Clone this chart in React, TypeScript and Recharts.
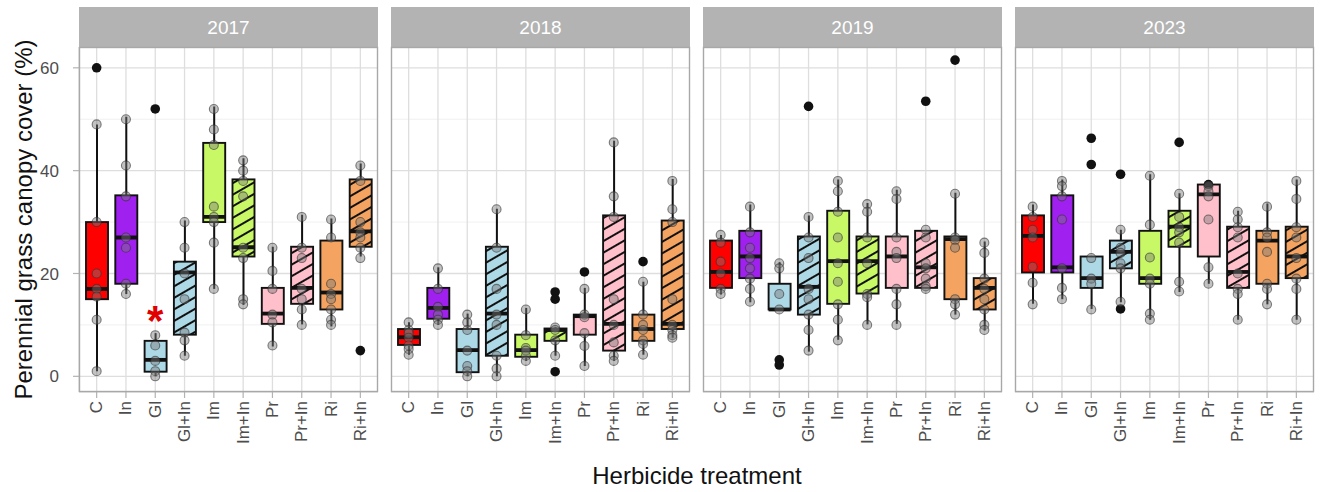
import React from 'react';
import { ComposedChart, Bar, Scatter, XAxis, YAxis, CartesianGrid, ReferenceDot } from 'recharts';

const categories = ['C', 'In', 'Gl', 'Gl+In', 'Im', 'Im+In', 'Pr', 'Pr+In', 'Ri', 'Ri+In'];
const years = ['2017', '2018', '2019', '2023'];
const fillColors = ['#FF0000', '#A020F0', '#ADD8E6', '#ADD8E6', '#C8F866', '#C8F866', '#FFC0CB', '#FFC0CB', '#F4A460', '#F4A460'];
const hatched = [false, false, false, true, false, true, false, true, false, true];
const yTicks = [0, 20, 40, 60];
const yMinor = [10, 30, 50];

// [lower whisker, Q1, median, Q3, upper whisker]
const box2017 = [
  [1, 15, 17, 30, 49], [16, 18, 27, 35.2, 50.5], [0, 0.9, 3.2, 6.9, 8.4], [4, 8.1, 20.2, 22.3, 30.3],
  [17, 30, 31, 45.4, 52.5], [13.9, 23.3, 25.1, 38.3, 42.4], [5.8, 10.2, 12.2, 17.2, 25.2],
  [10.1, 14.1, 17.2, 25.2, 31.4], [9.7, 13, 16.3, 26.4, 30.7], [23.3, 25.2, 28.2, 38.3, 41.4],
];
const box2018 = [
  [4.2, 6.1, 7.6, 9.2, 10.5], [10, 11.2, 13.3, 17.2, 21.2], [0, 0.8, 5.1, 9.2, 12.2], [0, 4, 12.2, 25.2, 32.6],
  [3, 3.8, 5.1, 8.1, 13.3], [4, 6.9, 9, 9.3, 9.6], [2, 8.1, 11.7, 12, 17.2],
  [3, 5, 10.2, 31.3, 45.8], [4.2, 6.9, 9.2, 12, 18.4], [7.5, 9.2, 10.2, 30.3, 38.4],
];
const box2019 = [
  [15.9, 17.2, 20.3, 26.4, 27.5], [14.4, 19.1, 23.3, 28.3, 33.4], [13, 13, 13, 18, 22.2], [4.8, 12, 17.4, 27.2, 31.3],
  [7.1, 14.1, 22.4, 32.2, 38.3], [10.1, 16.1, 22.4, 27.2, 33.7], [10.2, 17.2, 23.3, 27.2, 36.3],
  [17.2, 17.2, 21.2, 28.3, 28.5], [12, 15, 26.7, 27.2, 35.7], [8.9, 13, 17.2, 19.1, 26.2],
];
const box2023 = [
  [14.1, 20.2, 27.3, 31.3, 33.4], [15, 20.2, 21.2, 35.2, 38.3], [13.1, 17.2, 19.1, 23.3, 23.3], [14.4, 21, 24.2, 26.4, 28.5],
  [11, 18, 19.1, 28.3, 39.3], [16.4, 25.2, 29.1, 32.2, 35.6], [18, 23.3, 35.4, 37.3, 37.3],
  [11, 17.2, 20.3, 29.1, 32.2], [14, 18, 26.4, 28.3, 33.6], [11, 19.1, 23.3, 29.1, 38.3],
];

// individual observations
const pts2017 = [
  [49, 30, 20, 17, 15.5, 11, 1], [50, 41, 35, 27, 25, 18, 16], [8, 6, 3, 1, 0], [30, 25, 20, 15, 8.5, 7, 4],
  [52, 48, 45, 33, 31, 30, 26, 17], [42, 40, 38, 35, 25, 23, 15, 14], [25, 20.5, 17, 12, 10.5, 6],
  [31, 25, 23, 17, 15, 13, 10], [30.5, 27, 18, 16, 15, 13, 11, 10], [41, 38, 30, 28, 27, 25, 23],
];
const pts2018 = [
  [10.5, 9, 8.4, 7.5, 6, 5.3, 4.2], [21, 17, 13.5, 12, 11, 10], [12, 10.5, 9, 5, 2, 1, 0], [32.5, 25, 17, 12, 10, 4, 1.5, 0],
  [13, 8, 5.5, 5, 4, 3], [9.5, 9, 7, 4], [17, 12, 11.5, 8.4, 5.9, 2],
  [45.5, 35, 31, 15, 10, 6.6, 4, 3], [18.4, 12, 10, 9, 7, 6.3, 4.2], [38, 32.5, 30, 15, 10, 9, 8, 7.5],
];
const pts2019 = [
  [27.5, 26, 22.3, 20, 17, 16], [33, 28, 25, 23, 21, 19, 17, 14.5], [22, 21, 16, 13], [31, 27, 23, 17, 15, 12, 9, 5],
  [38, 36, 32, 27, 22, 18.4, 14, 11, 7], [33.5, 32, 27, 22, 16, 15.4, 10], [36, 34.5, 27, 24.2, 23, 17, 14, 10],
  [28.5, 27, 22, 21, 19, 17.5, 17], [35.5, 27, 26.5, 25, 15, 14, 12], [26, 24, 19, 17, 15, 13, 10, 9],
];
const pts2023 = [
  [33, 31, 28.5, 27, 21.3, 18.2, 14], [38, 37, 35, 30.5, 21, 17.2, 15], [23, 19, 18, 13], [28.5, 25, 24, 22, 21, 14.5],
  [39, 29.5, 23.1, 19, 18, 12.2, 11], [35.5, 31, 29, 28, 26, 18.4, 16.5], [37, 36, 35, 30.5, 21.2, 18],
  [32, 30.5, 29, 27, 20, 17, 16, 11], [33, 28, 27, 24.2, 18, 17, 14], [38, 34.5, 29, 27, 23, 19, 17, 11],
];

// boxplot outliers
const out2017 = [[60], [], [52], [], [], [], [], [], [], [5]];
const out2018 = [[], [], [], [], [], [16.4, 15, 0.9], [20.3], [], [22.3], []];
const out2019 = [[], [], [3.2, 2.2], [52.5], [], [], [], [53.5], [61.5], []];
const out2023 = [[], [], [46.3, 41.2], [39.3, 13.1], [], [45.5], [37.3], [], [], []];

const boxes = [box2017, box2018, box2019, box2023];
const points = [pts2017, pts2018, pts2019, pts2023];
const outliers = [out2017, out2018, out2019, out2023];

const FONT = '"Liberation Sans", Arial, Helvetica, sans-serif';
const PLOT_TOP = 47;
const PLOT_BOTTOM = 392;
const PANEL_W = 299;
const panelLeft = [79, 391, 703, 1015];
const CHART_H = 460;

const fillFor = (i: number) => (hatched[i] ? `url(#hatch-${i})` : fillColors[i]);

const BoxShape = (props: any) => {
  const { x, y, width, height, payload } = props;
  if (!payload) return null;
  const [lo, hi] = payload.range;
  const top = Math.min(y, y + height);
  const bottom = Math.max(y, y + height);
  const span = hi - lo;
  const toPx = (v: number) => (span === 0 ? top : bottom - ((v - lo) / span) * (bottom - top));
  const cx = x + width / 2;
  const yq1 = toPx(payload.q1);
  const yq3 = toPx(payload.q3);
  const ym = toPx(payload.med);
  return (
    <g>
      <line x1={cx} x2={cx} y1={top} y2={bottom} stroke="#111" strokeWidth={2} />
      <rect x={x} y={yq3} width={width} height={Math.max(yq1 - yq3, 0.5)} fill={fillFor(payload.idx)} stroke="#111" strokeWidth={1.9} />
      <line x1={x} x2={x + width} y1={ym} y2={ym} stroke="#111" strokeWidth={3.8} />
    </g>
  );
};

const PointShape = (p: any) => (
  <circle cx={p.cx} cy={p.cy} r={4.5} fill="rgba(120,120,120,0.45)" stroke="rgba(50,50,50,0.6)" strokeWidth={1.1} />
);
const OutlierShape = (p: any) => <circle cx={p.cx} cy={p.cy} r={4.8} fill="#111" />;

const XTick = (props: any) => {
  const { x, y, payload } = props;
  return (
    <text x={x} y={y} transform={`rotate(-90 ${x} ${y})`} textAnchor="end" dominantBaseline="central" fill="#4d4d4d" fontSize={17} fontFamily={FONT}>
      {payload.value}
    </text>
  );
};

const Panel = ({ p }: { p: number }) => {
  const rows = categories.map((c, i) => {
    const b = boxes[p][i];
    return { cat: c, idx: i, range: [b[0], b[4]], q1: b[1], med: b[2], q3: b[3] };
  });
  const pts = categories.flatMap((c, i) => points[p][i].map((v) => ({ cat: c, v })));
  const outs = categories.flatMap((c, i) => outliers[p][i].map((v) => ({ cat: c, v })));
  const first = p === 0;
  return (
    <div style={{ position: 'absolute', left: first ? 0 : panelLeft[p], top: 0 }}>
      <ComposedChart
        width={first ? panelLeft[0] + PANEL_W : PANEL_W}
        height={CHART_H}
        data={rows}
        margin={{ top: PLOT_TOP, right: 0, bottom: 0, left: 0 }}
      >
        <CartesianGrid vertical={false} horizontalValues={yMinor} stroke="#ececec" strokeWidth={0.8} />
        <CartesianGrid stroke="#dedede" strokeWidth={1.3} />
        <XAxis
          dataKey="cat"
          type="category"
          allowDuplicatedCategory={false}
          interval={0}
          padding={{ left: 3, right: 3 }}
          height={CHART_H - PLOT_BOTTOM}
          axisLine={false}
          tickLine={{ stroke: '#b3b3b3', strokeWidth: 1.2 }}
          tickSize={6}
          tickMargin={3}
          tick={<XTick />}
        />
        <YAxis
          hide={!first}
          type="number"
          domain={[-3.05, 64.05]}
          allowDataOverflow
          ticks={yTicks}
          width={panelLeft[0]}
          axisLine={false}
          tickLine={{ stroke: '#b3b3b3', strokeWidth: 1.2 }}
          tickSize={6}
          tickMargin={14}
          tick={{ fill: '#4d4d4d', fontSize: 17, fontFamily: FONT }}
        />
        <Bar dataKey="range" barSize={22} isAnimationActive={false} shape={<BoxShape />} />
        <Scatter data={outs} dataKey="v" isAnimationActive={false} shape={<OutlierShape />} />
        <Scatter data={pts} dataKey="v" isAnimationActive={false} shape={<PointShape />} />
        {first && (
          <ReferenceDot
            x="Gl"
            y={12.7}
            r={0}
            shape={(s: any) => (
              <text x={s.cx} y={s.cy + 24} textAnchor="middle" fill="#e00000" fontSize={42} fontWeight="bold" fontFamily={FONT}>
                *
              </text>
            )}
          />
        )}
      </ComposedChart>
    </div>
  );
};

export default function App() {
  return (
    <div style={{ position: 'absolute', left: 0, top: 0, width: 1320, height: 492, background: '#fff', fontFamily: FONT }}>
      <svg width={0} height={0} style={{ position: 'absolute' }}>
        <defs>
          {categories.map((c, i) =>
            hatched[i] ? (
              <pattern key={c} id={`hatch-${i}`} patternUnits="userSpaceOnUse" width={10} height={10} patternTransform="rotate(-30)">
                <rect width={10} height={10} fill={fillColors[i]} />
                <line x1={0} x2={10} y1={5} y2={5} stroke="#111" strokeWidth={2} />
              </pattern>
            ) : null
          )}
        </defs>
      </svg>
      {years.map((yr, p) => (
        <Panel key={yr} p={p} />
      ))}
      <svg width={1320} height={492} style={{ position: 'absolute', left: 0, top: 0, pointerEvents: 'none' }}>
        {years.map((yr, p) => (
          <g key={yr}>
            <rect x={panelLeft[p]} y={7} width={PANEL_W} height={PLOT_TOP - 7} fill="#b3b3b3" />
            <text x={panelLeft[p] + PANEL_W / 2} y={27} textAnchor="middle" dominantBaseline="central" fill="#fff" fontSize={19} fontFamily={FONT}>
              {yr}
            </text>
            <rect x={panelLeft[p] + 0.5} y={PLOT_TOP + 0.5} width={PANEL_W - 1} height={PLOT_BOTTOM - PLOT_TOP - 1} fill="none" stroke="#a8a8a8" strokeWidth={1.4} />
          </g>
        ))}
        <text x={23} y={(PLOT_TOP + PLOT_BOTTOM) / 2} transform={`rotate(-90 23 ${(PLOT_TOP + PLOT_BOTTOM) / 2})`} textAnchor="middle" dominantBaseline="central" fill="#111" fontSize={24} fontFamily={FONT}>
          Perennial grass canopy cover (%)
        </text>
        <text x={697} y={475} textAnchor="middle" dominantBaseline="central" fill="#111" fontSize={24} fontFamily={FONT}>
          Herbicide treatment
        </text>
      </svg>
    </div>
  );
}
